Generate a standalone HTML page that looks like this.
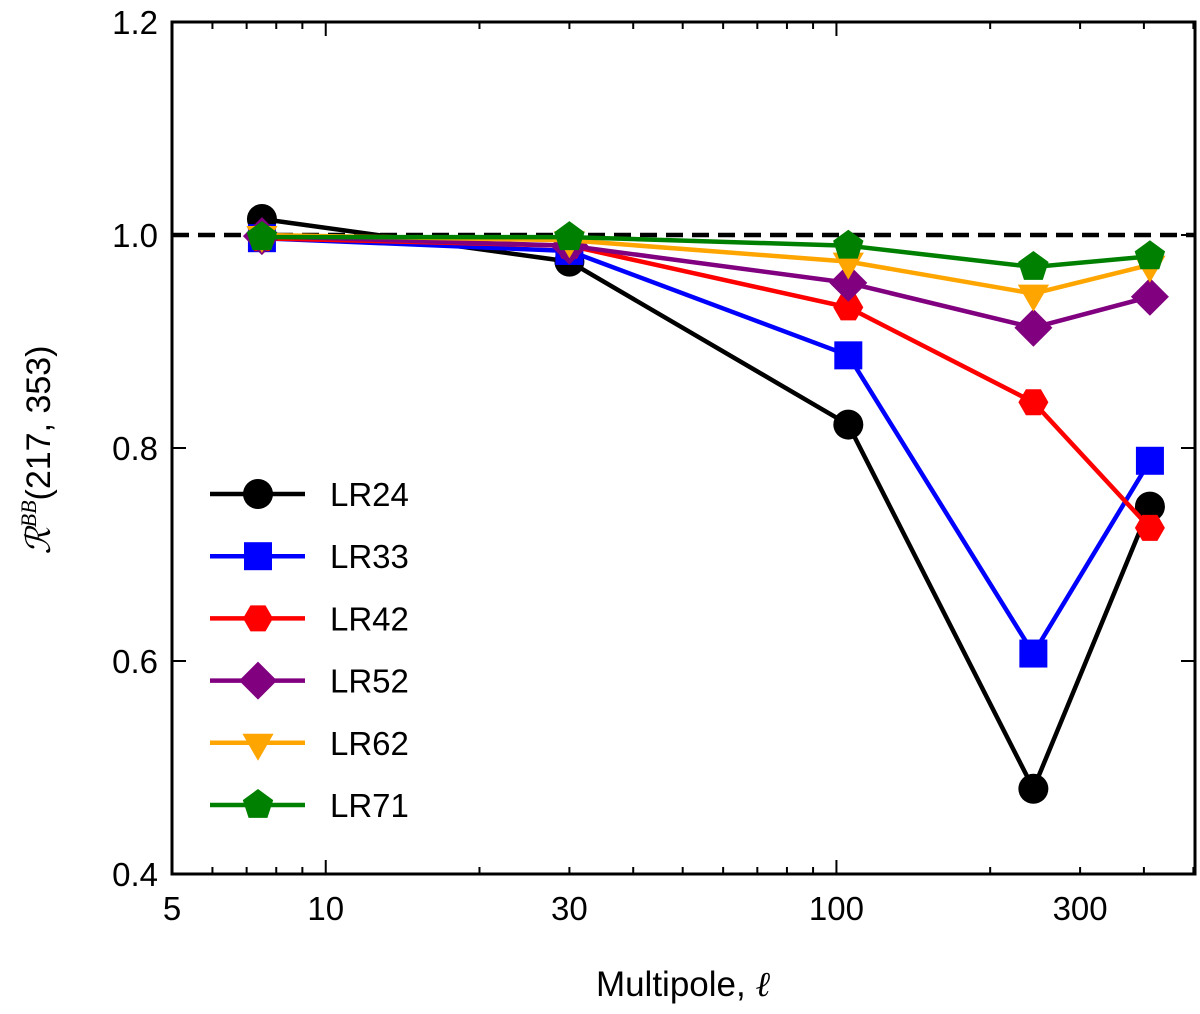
<!DOCTYPE html>
<html><head><meta charset="utf-8"><style>
body{margin:0;background:#fff;}
svg text{font-family:"Liberation Sans",sans-serif;fill:#000;}
</style></head><body>
<svg id="chart" width="1200" height="1009" xmlns="http://www.w3.org/2000/svg">
<g id="plot"></g>
</svg>
<script>
const ells=[7.5,30,105.5,243,411];
const seriesNames=["LR24","LR33","LR42","LR52","LR62","LR71"];
const seriesColors=["#000000","#0000ff","#ff0000","#800080","#ffa500","#008000"];
const seriesMarkers=["circle","square","hexagon","diamond","tridown","pentagon"];
const lr24=[1.015,0.975,0.822,0.48,0.745];
const lr33=[0.997,0.985,0.887,0.607,0.788];
const lr42=[0.997,0.99,0.932,0.843,0.725];
const lr52=[0.999,0.99,0.955,0.913,0.942];
const lr62=[1.0,0.995,0.975,0.945,0.972];
const lr71=[0.998,0.998,0.99,0.97,0.98];
const yTicks=[0.4,0.6,0.8,1.0,1.2];
const xTickLabels=[5,10,30,100,300];

const L=172,R=1195,T=22,B=874;
const xmin=Math.log10(5),pxPerDec=510.7;
function X(v){return L+(Math.log10(v)-xmin)*pxPerDec;}
function Y(v){return B-(v-0.4)/0.8*(B-T);}
const NS="http://www.w3.org/2000/svg";
const g=document.getElementById('plot');
function el(tag,attrs,parent){const e=document.createElementNS(NS,tag);for(const k in attrs)e.setAttribute(k,attrs[k]);(parent||g).appendChild(e);return e;}

function marker(type,cx,cy,color,parent){
  let e;
  if(type==="circle") e=el('circle',{cx:cx,cy:cy,r:15,fill:color},parent);
  else if(type==="square") e=el('rect',{x:cx-14,y:cy-14,width:28,height:28,fill:color},parent);
  else {
    let n,r,rot;
    if(type==="hexagon"){n=6;r=15;rot=0;}
    else if(type==="diamond"){n=4;r=19;rot=-90;}
    else if(type==="tridown"){n=3;r=18;rot=90;}
    else {n=5;r=16;rot=-90;}
    const pts=[];for(let i=0;i<n;i++){const a=(rot+i*360/n)*Math.PI/180;pts.push((cx+r*Math.cos(a)).toFixed(1)+","+(cy+r*Math.sin(a)).toFixed(1));}
    e=el('polygon',{points:pts.join(" "),fill:color},parent);
  }
  return e;
}

const ref=el('line',{x1:L,x2:R,y1:Y(1.0),y2:Y(1.0),stroke:'#000','stroke-width':4.5,'stroke-dasharray':'17,9'});



const allVals=[lr24,lr33,lr42,lr52,lr62,lr71];
allVals.forEach((vals,si)=>{
  const sg=el('g',{});
  
  
  const pts=vals.map((v,i)=>X(ells[i]).toFixed(1)+","+Y(v).toFixed(1)).join(" ");
  el('polyline',{points:pts,fill:'none',stroke:seriesColors[si],'stroke-width':4.5},sg);
  vals.forEach((v,i)=>{
    const m=marker(seriesMarkers[si],X(ells[i]),Y(v),seriesColors[si],sg);
    
    
  });
});

const fr=el('rect',{x:L,y:T,width:R-L,height:B-T,fill:'none',stroke:'#000','stroke-width':3});



yTicks.forEach(v=>{
  const y=Y(v);
  el('line',{x1:L,x2:L+14,y1:y,y2:y,stroke:'#000','stroke-width':2});
  el('line',{x1:R-14,x2:R,y1:y,y2:y,stroke:'#000','stroke-width':2});
  const t=el('text',{x:L-14,y:y+12,'text-anchor':'end','font-size':33});
  t.textContent=v.toFixed(1);
  
  
});
for(let d=1;d<=100;d*=10){for(let k=1;k<10;k++){const v=k*d;if(v<5||v>500)continue;
  const major=(k===1);const len=major?14:7;const x=X(v);
  el('line',{x1:x,x2:x,y1:B,y2:B-len,stroke:'#000','stroke-width':2});
  el('line',{x1:x,x2:x,y1:T,y2:T+len,stroke:'#000','stroke-width':2});
}}
xTickLabels.forEach(v=>{
  const t=el('text',{x:X(v),y:B+46,'text-anchor':'middle','font-size':33});
  t.textContent=String(v);
  
  
});

const xt=el('text',{x:683,y:996,'text-anchor':'middle','font-size':35});
xt.innerHTML='Multipole, <tspan font-style="italic" font-family="Liberation Serif">ℓ</tspan>';


const yt=el('text',{x:0,y:0,'text-anchor':'middle','font-size':34,transform:'translate(50,450) rotate(-90)'});
yt.innerHTML='<tspan font-family="Liberation Serif" font-style="italic">ℛ</tspan><tspan font-size="22" dy="-14" font-style="italic" font-family="Liberation Serif">BB</tspan><tspan dy="14">(217, 353)</tspan>';



const lg=el('g',{});


seriesNames.forEach((n,i)=>{
  const y=494+i*62.2;
  const eg=el('g',{},lg);
  
  
  el('line',{x1:210,x2:305,y1:y,y2:y,stroke:seriesColors[i],'stroke-width':4.5},eg);
  marker(seriesMarkers[i],258,y,seriesColors[i],eg);
  const t=el('text',{x:330,y:y+12,'font-size':33},eg);
  t.textContent=n;
});
</script>
</body></html>
